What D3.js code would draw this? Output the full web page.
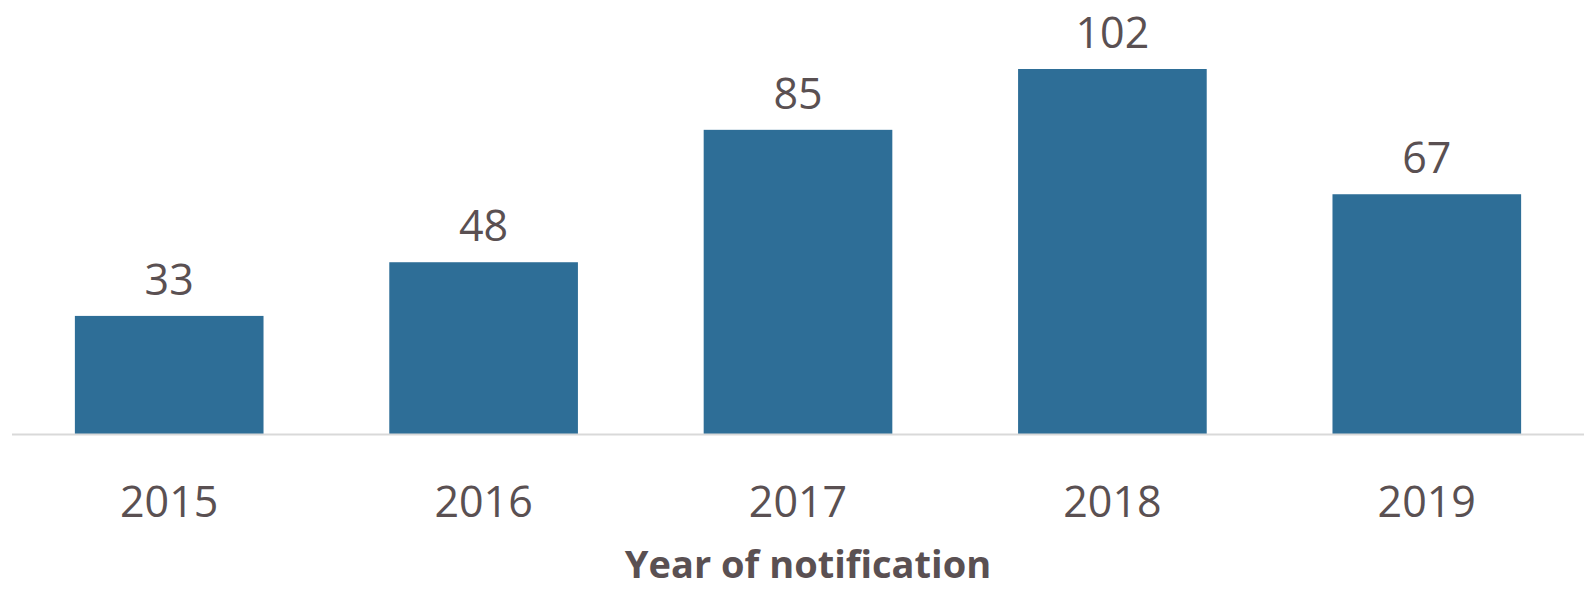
<!DOCTYPE html>
<html>
<head>
<meta charset="utf-8">
<script src="https://cdn.jsdelivr.net/npm/d3@7"></script>
<style>
  body { margin: 0; background: #fff; }
  text { font-family: "Open Sans", sans-serif; fill: #5a5052; }
</style>
</head>
<body>
<div id="chart"></div>
<script>
// data
const years = ["2015", "2016", "2017", "2018", "2019"];
const counts = [33, 48, 85, 102, 67];
const axisTitle = "Year of notification";

const width = 1586, height = 589;
const margin = { top: 69, right: 2, bottom: 155, left: 12 };
const innerW = width - margin.left - margin.right;
const innerH = height - margin.top - margin.bottom;

const svg = d3.select("#chart").append("svg")
    .attr("width", width)
    .attr("height", height);

const g = svg.append("g")
    .attr("transform", "translate(" + margin.left + "," + margin.top + ")");

const x = d3.scaleBand()
    .domain(years)
    .range([0, innerW])
    .paddingInner(0.4)
    .paddingOuter(0.2);

const y = d3.scaleLinear()
    .domain([0, 102])
    .range([innerH, 0]);

const data = years.map((yr, i) => ({ year: yr, value: counts[i] }));

g.selectAll(".bar")
    .data(data)
    .enter()
    .append("rect")
    .attr("class", "bar")
    .attr("x", d => x(d.year))
    .attr("y", d => y(d.value))
    .attr("width", x.bandwidth())
    .attr("height", d => innerH - y(d.value))
    .attr("fill", "#2e6e97");

// baseline
g.append("line")
    .attr("x1", 0)
    .attr("x2", innerW)
    .attr("y1", innerH + 0.5)
    .attr("y2", innerH + 0.5)
    .attr("stroke", "#d9d9d9")
    .attr("stroke-width", 2);

// value labels
g.selectAll(".val")
    .data(data)
    .enter()
    .append("text")
    .attr("class", "val")
    .attr("x", d => x(d.year) + x.bandwidth() / 2)
    .attr("y", d => y(d.value) - 21)
    .attr("text-anchor", "middle")
    .style("font-size", "43px")
    .text(d => d.value);

// category labels
g.selectAll(".cat")
    .data(years)
    .enter()
    .append("text")
    .attr("class", "cat")
    .attr("x", d => x(d) + x.bandwidth() / 2)
    .attr("y", innerH + 83)
    .attr("text-anchor", "middle")
    .style("font-size", "43px")
    .text(d => d);

svg.append("text")
    .attr("x", 808)
    .attr("y", 578)
    .attr("text-anchor", "middle")
    .style("font-size", "38px")
    .style("font-weight", "bold")
    .text(axisTitle);
</script>
</body>
</html>
